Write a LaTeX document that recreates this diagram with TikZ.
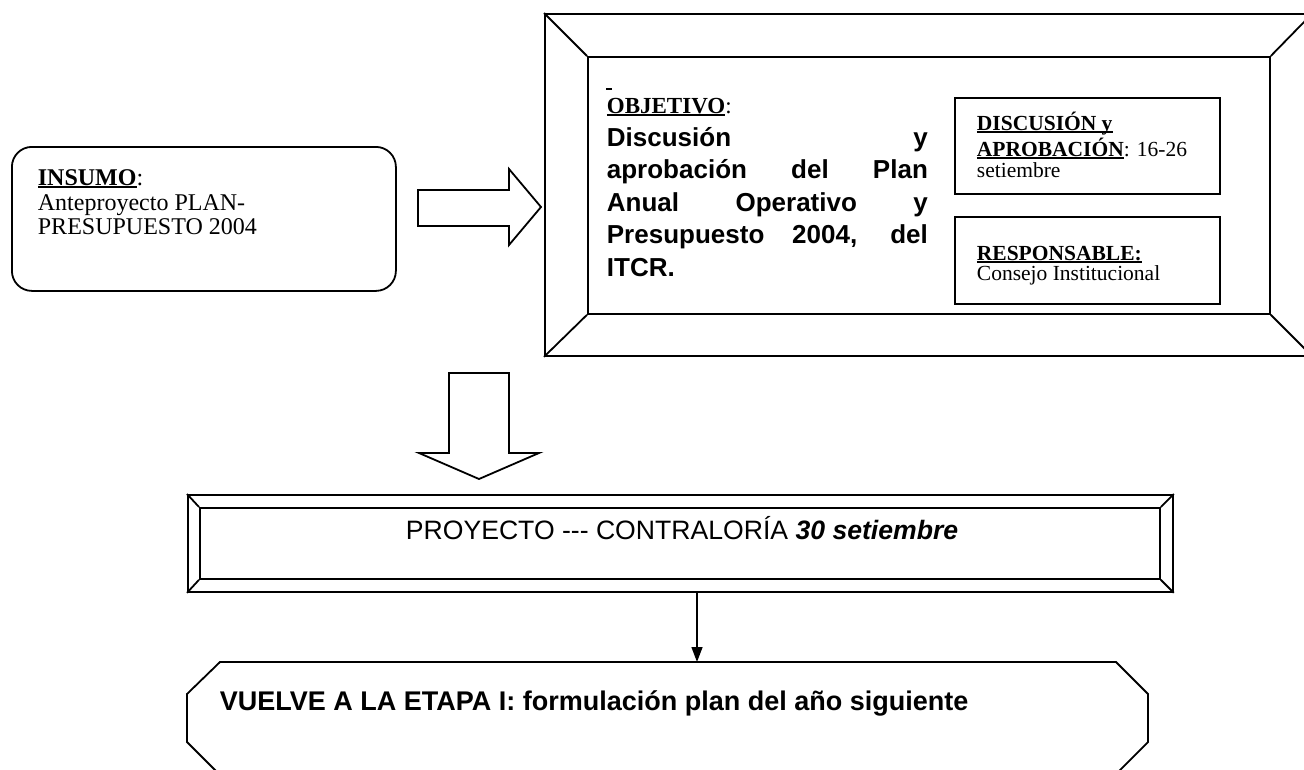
\documentclass[tikz,border=0pt]{standalone}
\usepackage{fontspec}
\setmainfont{Liberation Serif}
\newfontfamily\arialf{Liberation Sans}
\usetikzlibrary{arrows.meta}
\newcommand\myul[1]{\setbox0=\hbox{#1}\rlap{\rule[-2.8pt]{\wd0}{1.4pt}}\box0}
\begin{document}
\begin{tikzpicture}[x=1pt,y=-1pt,line width=1.8pt,line join=miter,
  boxnode/.style={draw,inner sep=0pt,anchor=north west},
  txt/.style={anchor=base west,inner sep=0pt},
  tsmall/.style={txt,font=\fontsize{21.5}{23}\selectfont},
  tins/.style={txt,font=\fontsize{24}{26}\selectfont},
  tobj/.style={txt,font=\arialf\bfseries\fontsize{26}{30}\selectfont},
  tsans/.style={txt,font=\arialf\fontsize{26.6}{30}\selectfont}]
\useasboundingbox (0,0) rectangle (1304,769);

% INSUMO box
\node[boxnode,rounded corners=20pt,minimum width=384pt,minimum height=144pt] (insumo) at (11,146) {};
\node[tins] (ins1) at (37,185) {\myul{\textbf{INSUMO}}:};
\node[tins] (ins2) at (37,210) {Anteproyecto PLAN-};
\node[tins] (ins3) at (37,234) {PRESUPUESTO 2004};

% right block arrow
\draw (418,190) -- (509,190) -- (509,169) -- (541,207) -- (509,245) -- (509,226) -- (418,226) -- cycle;

% big bevel frame
\node[boxnode,minimum width=767pt,minimum height=342pt] (frame) at (544,13) {};
\node[boxnode,minimum width=682pt,minimum height=257pt] (inner) at (587,56) {};
\draw (frame.north west) -- (inner.north west);
\draw (frame.south west) -- (inner.south west);
\draw (frame.north east) -- (inner.north east);
\draw (frame.south east) -- (inner.south east);

% objective text
\draw[line width=1.4pt] (606,89) -- (612,89);
\node[txt,font=\fontsize{23}{26}\selectfont] (obj0) at (606,113) {\myul{\textbf{OBJETIVO}}:};
\node[tobj] (obj1) at (606,146) {\makebox[321pt][s]{Discusión y}};
\node[tobj] (obj2) at (606,178) {\makebox[321pt][s]{aprobación del Plan}};
\node[tobj] (obj3) at (606,211) {\makebox[321pt][s]{Anual Operativo y}};
\node[tobj] (obj4) at (606,243) {\makebox[321pt][s]{Presupuesto 2004, del}};
\node[tobj] (obj5) at (606,276) {ITCR.};

% small boxes
\node[boxnode,minimum width=265pt,minimum height=96pt] (disc) at (954,97) {};
\node[tsmall] (d1) at (976,130) {\myul{\textbf{DISCUSIÓN y}}};
\node[tsmall] (d2) at (976,156) {\myul{\textbf{APROBACIÓN}}: 16-26};
\node[tsmall] (d3) at (976,177) {setiembre};
\node[boxnode,minimum width=265pt,minimum height=87pt] (resp) at (954,216) {};
\node[tsmall] (r1) at (976,260) {\myul{\textbf{RESPONSABLE:}}};
\node[tsmall] (r2) at (976,280) {Consejo Institucional};

% down block arrow
\draw (449,373) -- (509,373) -- (509,453) -- (539,453) -- (479,479) -- (419,453) -- (449,453) -- cycle;

% PROYECTO bevel box
\node[boxnode,minimum width=985pt,minimum height=97pt] (proy) at (187,494) {};
\node[boxnode,minimum width=960pt,minimum height=71pt] (proyin) at (199,507) {};
\draw (proy.north west) -- (proyin.north west);
\draw (proy.south west) -- (proyin.south west);
\draw (proy.north east) -- (proyin.north east);
\draw (proy.south east) -- (proyin.south east);
\node[tsans] (p1) at (405,539) {PROYECTO --- CONTRALORÍA \textbf{\textit{30 setiembre}}};

% VUELVE octagon
\draw (220,662) -- (1116,662) -- (1148,694) -- (1148,742) -- (1117,773)
  -- (218,773) -- (187,742) -- (187,694) -- cycle;
\coordinate (vin) at (697,662);
\node[txt,font=\arialf\bfseries\fontsize{27}{30}\selectfont] (v1) at (219,710) {VUELVE A LA ETAPA I: formulación plan del año siguiente};

% thin arrow
\draw[line width=1.4pt,-{Triangle[length=15pt,width=11pt]}] (proy.south -| vin) -- (vin);
\end{tikzpicture}
\end{document}
